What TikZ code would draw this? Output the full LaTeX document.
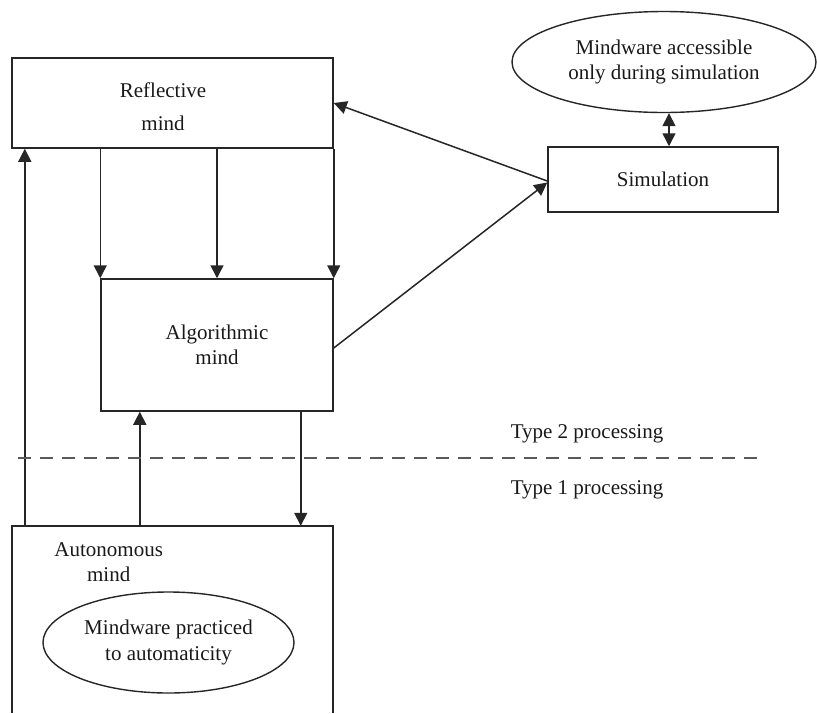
\documentclass[tikz,border=0pt]{standalone}
\usepackage{fontspec}
\setmainfont{Liberation Serif}
\usetikzlibrary{arrows.meta,shapes.geometric}
\begin{document}
\begin{tikzpicture}[x=1pt,y=-1pt,
  every node/.style={font=\fontsize{21}{25.5}\selectfont, text=black!90},
  box/.style={draw=black!85, line width=1.5pt, rectangle, inner sep=0pt, align=center},
  boxline/.style={draw=black!85, line width=1.5pt},
  ell/.style={draw=black!85, line width=1.4pt, ellipse, inner sep=0pt, align=center},
  lbl/.style={align=center, inner sep=0pt},
  arr/.style={draw=black!85, line width=1.5pt, -{Triangle[length=13pt,width=13pt]}},
  dbl/.style={draw=black!85, line width=1.5pt, {Triangle[length=13pt,width=13pt]}-{Triangle[length=13pt,width=13pt]}},
  divider/.style={draw=black!65, line width=1.5pt, dash pattern=on 13pt off 9pt}]
\useasboundingbox (0,0) rectangle (817,713);

% boxes
\node[box, minimum width=321pt, minimum height=90pt] (refl) at (172.5,103) {};
\node[lbl, font=\fontsize{21}{33}\selectfont] (refltext) at (163,106.4) {Reflective\\mind};
\node[box, minimum width=232pt, minimum height=132pt] (algo) at (217,345) {Algorithmic\\mind};
\node[box, minimum width=230pt, minimum height=65pt] (sim) at (663,179.5) {Simulation};
\node[ell, minimum width=304pt, minimum height=101pt] (mwsim) at (664,62) {Mindware accessible\\only during simulation};

% autonomous mind (open at the bottom)
\node[minimum width=321pt, minimum height=187pt, inner sep=0pt] (auto) at (172.5,619.5) {};
\draw[boxline] (auto.south west) -- (auto.north west) -- (auto.north east) -- (auto.south east);
\node[lbl] (autotext) at (108.7,562) {Autonomous\\mind};
\node[ell, minimum width=251pt, minimum height=101pt] (mwauto) at (168.5,642.5) {Mindware practiced\\to automaticity};

% arrows reflective -> algorithmic
\draw[arr] (refl.south -| algo.west) -- (algo.north west);
\draw[arr] (refl.south -| algo.north) -- (algo.north);
\draw[arr] (refl.south east) -- (algo.north east);

% arrows between autonomous and others
\draw[arr] ([xshift=13pt]auto.north west) -- ([xshift=13pt]auto.north west |- refl.south);
\draw[arr] ([xshift=128pt]auto.north west) -- ([xshift=128pt]auto.north west |- algo.south);
\draw[arr] ([xshift=-33pt]algo.south east) -- ([xshift=-33pt]algo.south east |- auto.north);

% simulation arrows
\draw[arr] ([yshift=-1.5pt]sim.west) -- (refl.east);
\draw[arr] ([yshift=-3pt]algo.east) -- ([yshift=-3pt]sim.west);
\draw[dbl] ([xshift=5pt]mwsim.south) -- ([xshift=5pt]mwsim.south |- sim.north);

% divider
\coordinate (dl) at (18,458);
\coordinate (dr) at (760,458);
\draw[divider] (dl) -- (dr);
\node[lbl, anchor=base] (t2) at (587,438) {Type 2 processing};
\node[lbl, anchor=base] (t1) at (587,494) {Type 1 processing};
\end{tikzpicture}
\end{document}
